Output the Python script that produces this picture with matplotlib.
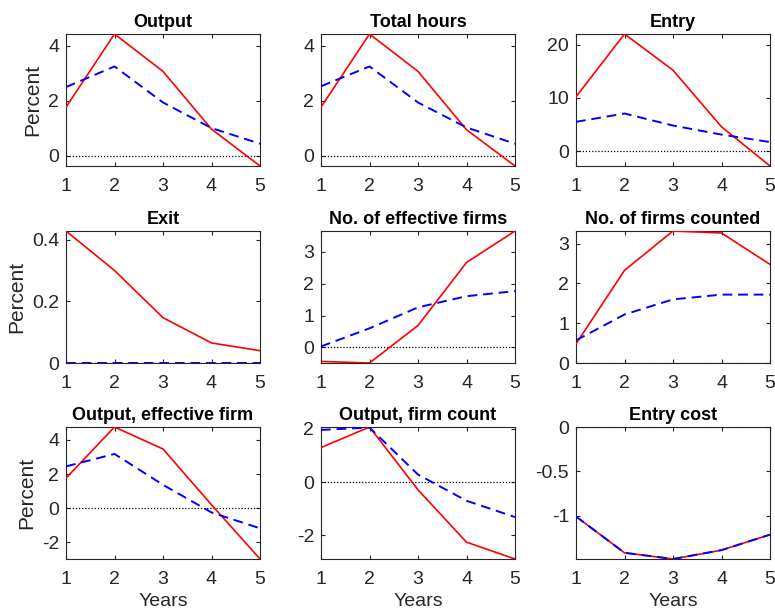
import matplotlib
matplotlib.use("Agg")
import matplotlib.pyplot as plt
import numpy as np

plt.rcParams['font.family'] = ['Liberation Sans', 'DejaVu Sans']

years = [1, 2, 3, 4, 5]

titles = ["Output", "Total hours", "Entry",
          "Exit", "No. of effective firms", "No. of firms counted",
          "Output, effective firm", "Output, firm count", "Entry cost"]

# red solid series
red = [
    [1.76, 4.42, 3.06, 0.96, -0.38],
    [1.76, 4.42, 3.06, 0.94, -0.38],
    [10.2, 22.0, 15.2, 4.56, -2.8],
    [0.428, 0.30, 0.147, 0.065, 0.04],
    [-0.44, -0.49, 0.69, 2.67, 3.66],
    [0.48, 2.33, 3.32, 3.27, 2.48],
    [1.76, 4.76, 3.47, 0.2, -2.98],
    [1.29, 2.06, -0.29, -2.25, -2.88],
    [-1.01, -1.42, -1.49, -1.39, -1.215],
]

# blue dashed series
blue = [
    [2.49, 3.24, 1.93, 1.0, 0.43],
    [2.52, 3.24, 1.93, 1.02, 0.43],
    [5.5, 7.06, 4.8, 3.1, 1.7],
    [0.0, 0.0, 0.0, 0.0, 0.0],
    [0.03, 0.6, 1.26, 1.61, 1.77],
    [0.57, 1.22, 1.6, 1.72, 1.72],
    [2.45, 3.18, 1.37, -0.25, -1.18],
    [1.95, 2.04, 0.28, -0.7, -1.31],
    [-1.01, -1.42, -1.49, -1.39, -1.215],
]

yticks = [
    [0, 2, 4], [0, 2, 4], [0, 10, 20],
    [0, 0.2, 0.4], [0, 1, 2, 3], [0, 1, 2, 3],
    [-2, 0, 2, 4], [-2, 0, 2], [-1, -0.5, 0],
]

W, H = 775, 610
fig = plt.figure(figsize=(W / 100, H / 100), dpi=100)

lefts = [66, 321, 576]
tops = [34, 231, 427]
aw, ah = 194, 132
grey = '#262626'

for i in range(9):
    r, c = divmod(i, 3)
    ax = fig.add_axes([lefts[c] / W, (H - tops[r] - ah) / H, aw / W, ah / H])
    ax.plot(years, red[i], color='#ff0000', lw=1.2, zorder=3)
    ax.plot(years, blue[i], color='#0000ff', lw=1.4, ls=(0, (5, 3)), zorder=4)
    ax.plot([1, 5], [0, 0], color='k', lw=0.9, ls=(0, (1, 1.5)), zorder=2)
    lo = min(min(red[i]), min(blue[i]), 0)
    hi = max(max(red[i]), max(blue[i]), 0)
    ax.set_xlim(1, 5)
    ax.set_ylim(lo, hi)
    ax.set_xticks(years)
    ax.set_yticks(yticks[i])
    ax.set_yticklabels([('%g' % v) for v in yticks[i]])
    ax.tick_params(direction='in', top=True, right=True, length=3,
                   labelsize=14, colors=grey, labelcolor=grey, pad=5)
    ax.tick_params(axis='x', pad=9)
    for s in ax.spines.values():
        s.set_color(grey)
        s.set_linewidth(0.8)
    ax.set_title(titles[i], fontsize=13, fontweight='bold', pad=5)
    if c == 0:
        ax.set_ylabel('Percent', fontsize=15, color=grey)
    if r == 2:
        ax.set_xlabel('Years', fontsize=14, color=grey, labelpad=3)

fig.savefig('out.png', dpi=100)
